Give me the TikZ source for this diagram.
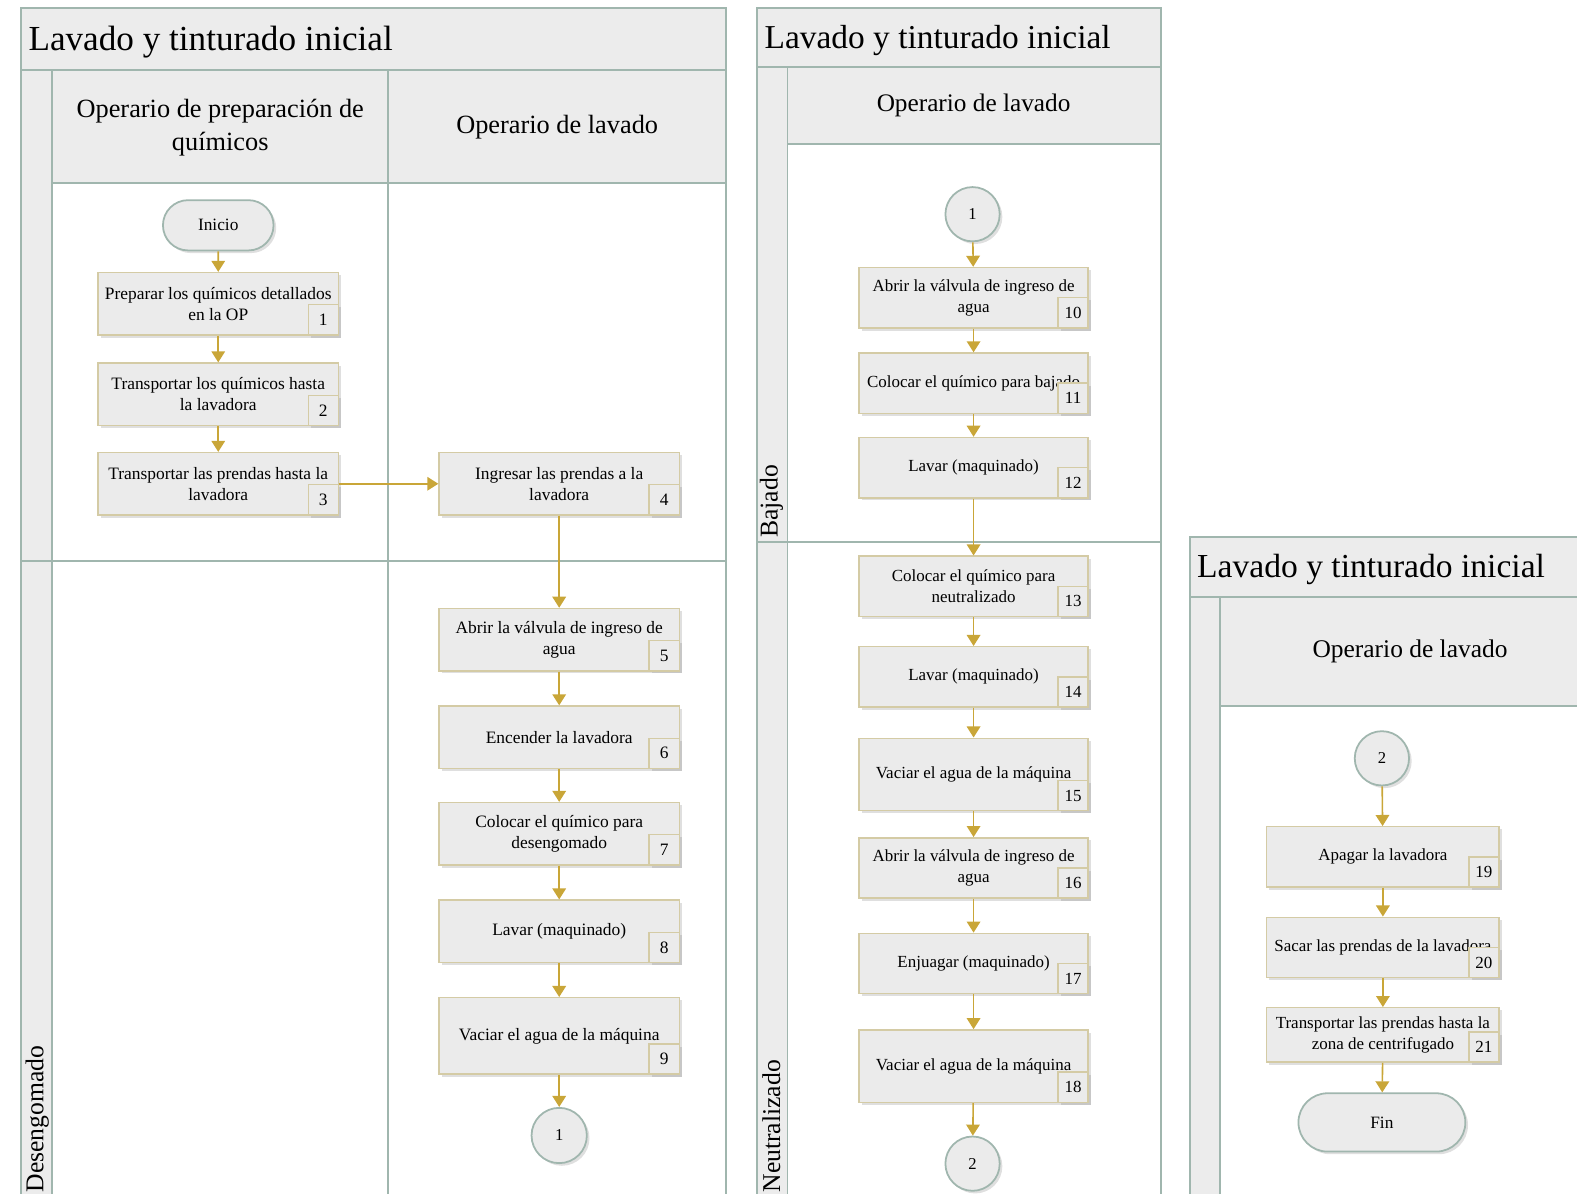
\documentclass[tikz,border=0pt]{standalone}
\usepackage{fontspec}
\setmainfont{Liberation Serif}
\usetikzlibrary{positioning, arrows.meta, shadows, shapes.misc}
\definecolor{laneline}{RGB}{160,182,174}
\definecolor{bandfill}{RGB}{236,236,236}
\definecolor{boxline}{RGB}{212,203,165}
\definecolor{boxfill}{RGB}{235,235,235}
\definecolor{flowc}{RGB}{201,166,56}

\begin{document}
\begin{tikzpicture}[x=0.02cm, y=-0.02cm,
  lane/.style={draw=laneline, line width=1.1pt},
  band/.style={lane, fill=bandfill},
  title/.style={inner sep=0pt, anchor=base west, font=\fontsize{19.2}{22}\selectfont},
  head/.style={align=center, font=\fontsize{14.6}{19}\selectfont},
  phase/.style={rotate=90, anchor=west, inner sep=0pt, font=\fontsize{14.5}{17}\selectfont},
  box/.style={draw=boxline, fill=boxfill, line width=0.8pt, align=center, minimum width=4.78cm, minimum height=1.24cm, inner sep=2pt, font=\fontsize{9.6}{12}\selectfont, drop shadow={shadow xshift=1.5pt, shadow yshift=-1.5pt, opacity=0.25}},
  num/.style={box, minimum width=0.6cm, minimum height=0.6cm, inner sep=0pt, anchor=south east},
  term/.style={rounded rectangle, draw=laneline, fill=boxfill, line width=1pt, inner sep=0pt, font=\fontsize{9.8}{12}\selectfont, drop shadow={shadow xshift=1.5pt, shadow yshift=-1.5pt, opacity=0.25}},
  con/.style={circle, draw=laneline, fill=boxfill, line width=1pt, minimum size=1.1cm, inner sep=0pt, font=\fontsize{9.4}{12}\selectfont, drop shadow={shadow xshift=1.5pt, shadow yshift=-1.5pt, opacity=0.25}},
  flow/.style={draw=flowc, line width=0.9pt, -{Triangle[width=0.27cm, length=0.22cm]}}]
\useasboundingbox (0,0) rectangle (1568,1187);
\clip (0,0) rectangle (1568,1187);

% first sheet: two lanes
\begin{scope}[box/.append style={font=\fontsize{9.85}{12}\selectfont}]
\draw[band] (21,8) rectangle (722,70);
\draw[band] (21,70) rectangle (52,1230);
\draw[band] (52,70) rectangle (722,182);
\draw[lane] (52,182) rectangle (722,1230);
\draw[lane] (386,70) -- (386,1230);
\draw[lane] (21,558) -- (722,558);
\node[title, font=\fontsize{19.9}{22}\selectfont] (t1) at (28,50) {Lavado y tinturado inicial};
\node[head, font=\fontsize{14.9}{19}\selectfont] (h1) at (219,127) {Operario de preparación de\\químicos};
\node[head, font=\fontsize{14.9}{19}\selectfont] (h2) at (554,126) {Operario de lavado};
\node[phase] (p1) at (37,1186) {Desengomado};

\node[term, minimum width=2.2cm, minimum height=1cm] (ini) at (217,224) {Inicio};
\node[box] (b1) at (217,302) {Preparar los químicos detallados\\en la OP};
\node[num] (n1) at (b1.south east) {1};
\node[box] (b2) at (217,392) {Transportar los químicos hasta\\la lavadora};
\node[num] (n2) at (b2.south east) {2};
\node[box] (b3) at (217,481) {Transportar las prendas hasta la\\lavadora};
\node[num] (n3) at (b3.south east) {3};
\node[box] (b4) at (556,481) {Ingresar las prendas a la\\lavadora};
\node[num] (n4) at (b4.south east) {4};
\node[box] (b5) at (556,636) {Abrir la válvula de ingreso de\\agua};
\node[num] (n5) at (b5.south east) {5};
\node[box] (b6) at (556,733) {Encender la lavadora};
\node[num] (n6) at (b6.south east) {6};
\node[box] (b7) at (556,829) {Colocar el químico para\\desengomado};
\node[num] (n7) at (b7.south east) {7};
\node[box] (b8) at (556,926) {Lavar (maquinado)};
\node[num] (n8) at (b8.south east) {8};
\node[box, minimum height=1.52cm] (b9) at (556,1030) {Vaciar el agua de la máquina};
\node[num] (n9) at (b9.south east) {9};
\node[con] (c1) at (556,1129) {1};
\end{scope}

\draw[flow] (ini) -- (b1);
\draw[flow] (b1) -- (b2);
\draw[flow] (b2) -- (b3);
\draw[flow] (b3) -- (b4);
\draw[flow] (b4) -- (b5);
\draw[flow] (b5) -- (b6);
\draw[flow] (b6) -- (b7);
\draw[flow] (b7) -- (b8);
\draw[flow] (b8) -- (b9);
\draw[flow] (b9) -- (c1);

% second sheet: bajado and neutralizado
\draw[band] (753,8) rectangle (1154,67);
\draw[band] (753,67) rectangle (783,1230);
\draw[band] (783,67) rectangle (1154,143);
\draw[lane] (783,143) rectangle (1154,1230);
\draw[lane] (753,539) -- (1154,539);
\node[title, font=\fontsize{18.9}{22}\selectfont] (t2) at (760,48) {Lavado y tinturado inicial};
\node[head, font=\fontsize{14.3}{19}\selectfont] (h3) at (968,105) {Operario de lavado};
\node[phase] (p2) at (767,535) {Bajado};
\node[phase] (p3) at (767,1186) {Neutralizado};

\begin{scope}[box/.append style={minimum width=4.56cm, minimum height=1.2cm}]
\node[con, minimum size=1.08cm] (c2) at (967,213) {1};
\node[box] (b10) at (968,296) {Abrir la válvula de ingreso de\\agua};
\node[num] (n10) at (b10.south east) {10};
\node[box] (b11) at (968,381) {Colocar el químico para bajado};
\node[num] (n11) at (b11.south east) {11};
\node[box] (b12) at (968,465) {Lavar (maquinado)};
\node[num] (n12) at (b12.south east) {12};
\node[box] (b13) at (968,583) {Colocar el químico para\\neutralizado};
\node[num] (n13) at (b13.south east) {13};
\node[box] (b14) at (968,673) {Lavar (maquinado)};
\node[num] (n14) at (b14.south east) {14};
\node[box, minimum height=1.44cm] (b15) at (968,770) {Vaciar el agua de la máquina};
\node[num] (n15) at (b15.south east) {15};
\node[box] (b16) at (968,863) {Abrir la válvula de ingreso de\\agua};
\node[num] (n16) at (b16.south east) {16};
\node[box] (b17) at (968,958) {Enjuagar (maquinado)};
\node[num] (n17) at (b17.south east) {17};
\node[box, minimum height=1.44cm] (b18) at (968,1060) {Vaciar el agua de la máquina};
\node[num] (n18) at (b18.south east) {18};
\node[con, minimum size=1.08cm] (c3) at (967,1157) {2};
\end{scope}

\draw[flow] (c2) -- (b10);
\draw[flow] (b10) -- (b11);
\draw[flow] (b11) -- (b12);
\draw[flow] (b12) -- (b13);
\draw[flow] (b13) -- (b14);
\draw[flow] (b14) -- (b15);
\draw[flow] (b15) -- (b16);
\draw[flow] (b16) -- (b17);
\draw[flow] (b17) -- (b18);
\draw[flow] (b18) -- (c3);

% third sheet: closing steps
\draw[band] (1183,534) rectangle (1600,594);
\draw[band] (1183,594) rectangle (1213,1230);
\draw[band] (1213,594) rectangle (1600,702);
\draw[lane] (1213,702) rectangle (1600,1230);
\node[title, font=\fontsize{19}{22}\selectfont] (t3) at (1190,574) {Lavado y tinturado inicial};
\node[head, font=\fontsize{14.4}{19}\selectfont] (h4) at (1402,648) {Operario de lavado};

\begin{scope}[box/.append style={minimum width=4.62cm, minimum height=1.2cm}]
\node[con, minimum size=1.08cm] (c4) at (1374,754) {2};
\node[box] (b19) at (1375,852) {Apagar la lavadora};
\node[num] (n19) at (b19.south east) {19};
\node[box] (b20) at (1375,942) {Sacar las prendas de la lavadora};
\node[num] (n20) at (b20.south east) {20};
\node[box, minimum height=1.08cm] (b21) at (1375,1029) {Transportar las prendas hasta la\\zona de centrifugado};
\node[num] (n21) at (b21.south east) {21};
\node[term, minimum width=3.32cm, minimum height=1.16cm] (fin) at (1374,1116) {Fin};
\end{scope}

\draw[flow] (c4) -- (b19);
\draw[flow] (b19) -- (b20);
\draw[flow] (b20) -- (b21);
\draw[flow] (b21) -- (fin);
\end{tikzpicture}
\end{document}
